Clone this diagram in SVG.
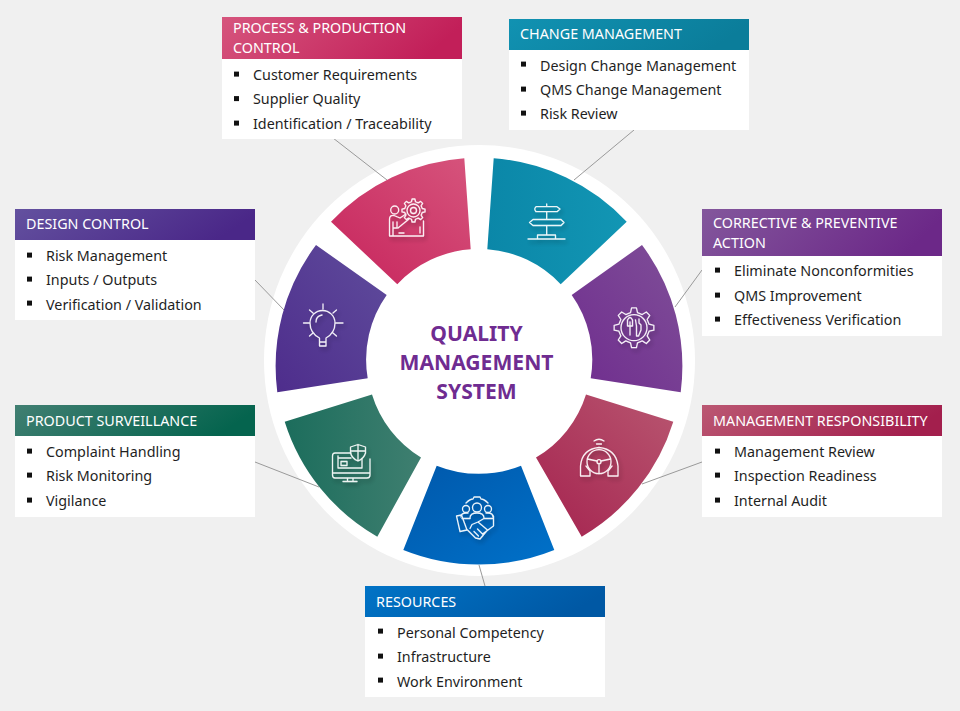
<svg xmlns="http://www.w3.org/2000/svg" xmlns:xlink="http://www.w3.org/1999/xlink" width="960" height="711" viewBox="0 0 960 711">
<style>
.box{fill:#fff}
.hd{font:14.33px "Noto Sans","Open Sans",sans-serif;fill:#fff}
.it{font:14.33px "Noto Sans","Open Sans",sans-serif;fill:#1f1f1f}
.bl{fill:#111;transform:translateY(.6px)}
.ln{stroke:#9a9a9a;stroke-width:1;fill:none}
.ic{fill:none;stroke:#fff;stroke-width:1.3;stroke-linejoin:round;stroke-linecap:round;opacity:.92;filter:url(#sh)}
.ct{font:bold 21.1px "Noto Sans","Open Sans",sans-serif;fill:#6f2c91;text-anchor:middle}
</style>
<defs>
<filter id="sh" x="-30%" y="-30%" width="170%" height="170%"><feDropShadow dx="2" dy="3" stdDeviation="2" flood-color="#000" flood-opacity=".28"/></filter>
<linearGradient id="g1" x1="0" y1="1" x2="1" y2="0"><stop offset="0" stop-color="#c7245c"/><stop offset="1" stop-color="#d6547c"/></linearGradient>
<linearGradient id="g2" x1="0" y1="0" x2="1" y2="0"><stop offset="0" stop-color="#0b87a8"/><stop offset="1" stop-color="#1296b4"/></linearGradient>
<linearGradient id="g3" x1="0" y1="1" x2="1" y2="0"><stop offset="0" stop-color="#6f2c8e"/><stop offset="1" stop-color="#7f4f98"/></linearGradient>
<linearGradient id="g4" x1="0" y1="1" x2="1" y2="0"><stop offset="0" stop-color="#a5234f"/><stop offset="1" stop-color="#b85670"/></linearGradient>
<linearGradient id="g5" x1="0" y1="0" x2="1" y2="1"><stop offset="0" stop-color="#0058ab"/><stop offset="1" stop-color="#0071c9"/></linearGradient>
<linearGradient id="g6" x1="0" y1="0" x2="1" y2="0"><stop offset="0" stop-color="#1c6d5c"/><stop offset="1" stop-color="#3f7f70"/></linearGradient>
<linearGradient id="g7" x1="0" y1="1" x2="1" y2="0"><stop offset="0" stop-color="#4e2d8c"/><stop offset="1" stop-color="#5f4c9c"/></linearGradient>
<linearGradient id="h1" x1="0" y1="0" x2="1" y2=".2"><stop offset="0" stop-color="#d6557d"/><stop offset="1" stop-color="#c21f59"/></linearGradient>
<linearGradient id="h2" x1="0" y1="0" x2="1" y2=".2"><stop offset="0" stop-color="#1192b2"/><stop offset="1" stop-color="#0b7d9a"/></linearGradient>
<linearGradient id="h3" x1="0" y1="0" x2="1" y2=".2"><stop offset="0" stop-color="#83579c"/><stop offset="1" stop-color="#6c2888"/></linearGradient>
<linearGradient id="h4" x1="0" y1="0" x2="1" y2=".2"><stop offset="0" stop-color="#bb5873"/><stop offset="1" stop-color="#a31f4d"/></linearGradient>
<linearGradient id="h5" x1="0" y1="0" x2="1" y2=".2"><stop offset="0" stop-color="#0073c6"/><stop offset="1" stop-color="#0058a4"/></linearGradient>
<linearGradient id="h6" x1="0" y1="0" x2="1" y2=".2"><stop offset="0" stop-color="#417f72"/><stop offset="1" stop-color="#05644e"/></linearGradient>
<linearGradient id="h7" x1="0" y1="0" x2="1" y2=".2"><stop offset="0" stop-color="#63519f"/><stop offset="1" stop-color="#4a2788"/></linearGradient>
<path id="gear" d="M19.85 2.44L15.1 3.49L13.14 8.21L15.76 12.31L12.31 15.76L8.21 13.14L3.49 15.1L2.44 19.85L-2.44 19.85L-3.49 15.1L-8.21 13.14L-12.31 15.76L-15.76 12.31L-13.14 8.21L-15.1 3.49L-19.85 2.44L-19.85 -2.44L-15.1 -3.49L-13.14 -8.21L-15.76 -12.31L-12.31 -15.76L-8.21 -13.14L-3.49 -15.1L-2.44 -19.85L2.44 -19.85L3.49 -15.1L8.21 -13.14L12.31 -15.76L15.76 -12.31L13.14 -8.21L15.1 -3.49L19.85 -2.44Z"/>
</defs>
<rect width="960" height="711" fill="#f0f0f0"/>
<circle cx="479.5" cy="360.5" r="215.5" fill="#fff"/>
<g id="connectors">
<path class="ln" d="M333 138L387 180"/>
<path class="ln" d="M634 130L574 180"/>
<path class="ln" d="M255 280L284 310"/>
<path class="ln" d="M702 270L675 307"/>
<path class="ln" d="M702 462L642 484"/>
<path class="ln" d="M255 462L319 487"/>
<path class="ln" d="M479 565L485 586"/>
</g>
<g id="process-production-control">
<path d="M464.3 158.3A202.5 202.5 0 0 0 331 221.7L397.3 284.3A111.5 111.5 0 0 1 470.7 249.3Z" fill="url(#g1)"/>
<g class="ic"><use xlink:href="#gear" transform="translate(413.500 210.500) scale(.58)" stroke-width="2.300"/><circle cx="413.500" cy="210.500" r="6.500"/><circle cx="413.500" cy="210.500" r="3"/><circle cx="394.700" cy="210" r="4"/><path d="M423.500 221V236H389.500V219Q389.500 215 394 215.500L400 218L406 214M397 222V228H393V236M393 222V228M398 228L409 219M399 233H404M420 227V233"/></g>
<rect class="box" x="222" y="17" width="240" height="122"/>
<rect x="222" y="17" width="240" height="42" fill="url(#h1)"/>
<text class="hd" x="233" y="33">PROCESS &amp; PRODUCTION</text><text class="hd" x="233" y="53">CONTROL</text>
<rect class="bl" x="234" y="71" width="5" height="5"/><text class="it" x="253" y="80">Customer Requirements</text>
<rect class="bl" x="234" y="95.500" width="5" height="5"/><text class="it" x="253" y="104">Supplier Quality</text>
<rect class="bl" x="234" y="120" width="5" height="5"/><text class="it" x="253" y="129">Identification / Traceability</text>
</g>
<g id="change-management">
<path d="M493.7 158.3A202.5 202.5 0 0 1 626.7 221.7L560.7 284.3A111.5 111.5 0 0 0 487.3 249.3Z" fill="url(#g2)"/>
<g class="ic"><path d="M546.7 204V206.700M546.7 211.700V219.500M546.700 225.500V235M536 206.700H557L560 209L557 211.700H536Q533.500 209 536 206.700ZM533 219.500H561L564 222.500L561 225.500H533L529.500 222.500ZM537.500 239V235H555.500V239M528 239H565"/></g>
<rect class="box" x="509" y="19" width="240" height="111"/>
<rect x="509" y="19" width="240" height="31" fill="url(#h2)"/>
<text class="hd" x="520" y="39">CHANGE MANAGEMENT</text>
<rect class="bl" x="521" y="61" width="5" height="5"/><text class="it" x="540" y="71">Design Change Management</text>
<rect class="bl" x="521" y="86" width="5" height="5"/><text class="it" x="540" y="95">QMS Change Management</text>
<rect class="bl" x="521" y="110" width="5" height="5"/><text class="it" x="540" y="119">Risk Review</text>
</g>
<g id="corrective-preventive-action">
<path d="M571.700 295A111.500 111.500 0 0 1 590.700 378.300L680.700 392.300A202.500 202.500 0 0 0 642 245Z" fill="url(#g3)"/>
<g class="ic"><use xlink:href="#gear" transform="translate(634 327.700)"/><circle cx="634" cy="327.700" r="13"/><path d="M630 322V335M627.500 320Q630 315 632.500 320V326H627.500ZM639 319V323L641 325V330L638.500 336H636.500V326L635.500 320"/></g>
<rect class="box" x="702" y="209" width="240" height="127"/>
<rect x="702" y="209" width="240" height="47" fill="url(#h3)"/>
<text class="hd" x="713" y="228">CORRECTIVE &amp; PREVENTIVE</text><text class="hd" x="713" y="248">ACTION</text>
<rect class="bl" x="715" y="267" width="5" height="5"/><text class="it" x="734" y="276">Eliminate Nonconformities</text>
<rect class="bl" x="715" y="292" width="5" height="5"/><text class="it" x="734" y="301">QMS Improvement</text>
<rect class="bl" x="715" y="316" width="5" height="5"/><text class="it" x="734" y="325">Effectiveness Verification</text>
</g>
<g id="management-responsibility">
<path d="M586 394.500A111.500 111.500 0 0 1 536 457.500L581.700 536.700A202.500 202.500 0 0 0 673.300 421.700Z" fill="url(#g4)"/>
<g class="ic"><circle cx="599" cy="461.700" r="12"/><circle cx="599" cy="461.700" r="2"/><path d="M587.500 459L597 461M610.500 459L601 461M599 464V473.700M580.500 476V466Q582 449 599 447.500Q616 449 618 466V476H608V471L612 466M580.500 476H590V471L586 466M594 441Q599 437.500 604 441M596.500 444H601.500"/></g>
<rect class="box" x="702" y="405" width="240" height="112"/>
<rect x="702" y="405" width="240" height="31" fill="url(#h4)"/>
<text class="hd" x="713" y="426">MANAGEMENT RESPONSIBILITY</text>
<rect class="bl" x="715" y="448" width="5" height="5"/><text class="it" x="734" y="457">Management Review</text>
<rect class="bl" x="715" y="472" width="5" height="5"/><text class="it" x="734" y="481">Inspection Readiness</text>
<rect class="bl" x="715" y="497" width="5" height="5"/><text class="it" x="734" y="506">Internal Audit</text>
</g>
<g id="resources">
<path d="M436.700 465.700A113 113 0 0 0 521 465.700L554.300 550A202.500 202.500 0 0 1 403.300 550Z" fill="url(#g5)"/>
<g class="ic"><circle cx="477" cy="507.500" r="4.500"/><circle cx="466" cy="509" r="3.500"/><circle cx="488" cy="509" r="3.500"/><path d="M470 518Q470 513 477 513Q484 513 484 518M461 517Q461 513 466 513H468M486 513H488Q493 513 493 517M466 503Q470 499 473 499L474 497H480L481 499Q484 499 488 503"/><path d="M456.500 516L461.500 515L467 530L460 531.500ZM462 518.500H470M493.500 516V526L482.500 534M467.500 530L475.500 538L480 539L487.500 530L478 522L472 524.500L470 528.500M478 522L484 518.500H493.500M474 531.500L478.500 536M477.500 529L482.500 534"/></g>
<rect class="box" x="365" y="586" width="240" height="111"/>
<rect x="365" y="586" width="240" height="31" fill="url(#h5)"/>
<text class="hd" x="376" y="607">RESOURCES</text>
<rect class="bl" x="378" y="628" width="5" height="5"/><text class="it" x="397" y="638">Personal Competency</text>
<rect class="bl" x="378" y="653" width="5" height="5"/><text class="it" x="397" y="662">Infrastructure</text>
<rect class="bl" x="378" y="677" width="5" height="5"/><text class="it" x="397" y="687">Work Environment</text>
</g>
<g id="product-surveillance">
<path d="M372 394.500A111.500 111.500 0 0 0 421 457.500L377.300 536.700A202.500 202.500 0 0 1 284.700 421.700Z" fill="url(#g6)"/>
<g class="ic"><path d="M351 453H335Q332.500 453 332.500 456V475Q332.500 478 335 478H367Q370 478 370 475V459M332.500 473H370M338 456V468H362V459M338 458H351M341 461.500H347V465.500H341ZM347.500 478V481.500M353 478V481.500M343 481.500H357"/><path d="M358 444.500L365.500 447V453Q364 458.500 358 461Q352 458.500 350.500 453V447ZM358 444.500V461M350.500 451H365.500"/></g>
<rect class="box" x="15" y="405" width="240" height="112"/>
<rect x="15" y="405" width="240" height="31" fill="url(#h6)"/>
<text class="hd" x="26" y="426">PRODUCT SURVEILLANCE</text>
<rect class="bl" x="27" y="448" width="5" height="5"/><text class="it" x="46" y="457">Complaint Handling</text>
<rect class="bl" x="27" y="472" width="5" height="5"/><text class="it" x="46" y="481">Risk Monitoring</text>
<rect class="bl" x="27" y="497" width="5" height="5"/><text class="it" x="46" y="506">Vigilance</text>
</g>
<g id="design-control">
<path d="M386.700 295A111.500 111.500 0 0 0 367.700 378.300L277.300 392.300A202.500 202.500 0 0 1 316 245Z" fill="url(#g7)"/>
<g class="ic"><path d="M319.500 346V338Q310 333 310 323A12.500 12.500 0 0 1 335 323Q335 333 326 338V346ZM319.500 342H326M323 304V309M303.500 323H309M336 323H343M309.500 310L313 313M336.500 310L333 313M309.500 336L313 333M336.500 336L333 333M316 322Q316 316 322 315"/></g>
<rect class="box" x="15" y="209" width="240" height="111"/>
<rect x="15" y="209" width="240" height="31" fill="url(#h7)"/>
<text class="hd" x="26" y="229">DESIGN CONTROL</text>
<rect class="bl" x="27" y="252" width="5" height="5"/><text class="it" x="46" y="261">Risk Management</text>
<rect class="bl" x="27" y="276" width="5" height="5"/><text class="it" x="46" y="285">Inputs / Outputs</text>
<rect class="bl" x="27" y="300" width="5" height="5"/><text class="it" x="46" y="310">Verification / Validation</text>
</g>
<g id="center">
<text class="ct" x="476.500" y="341">QUALITY</text>
<text class="ct" x="476.500" y="370">MANAGEMENT</text>
<text class="ct" x="476.500" y="399">SYSTEM</text>
</g>
</svg>
